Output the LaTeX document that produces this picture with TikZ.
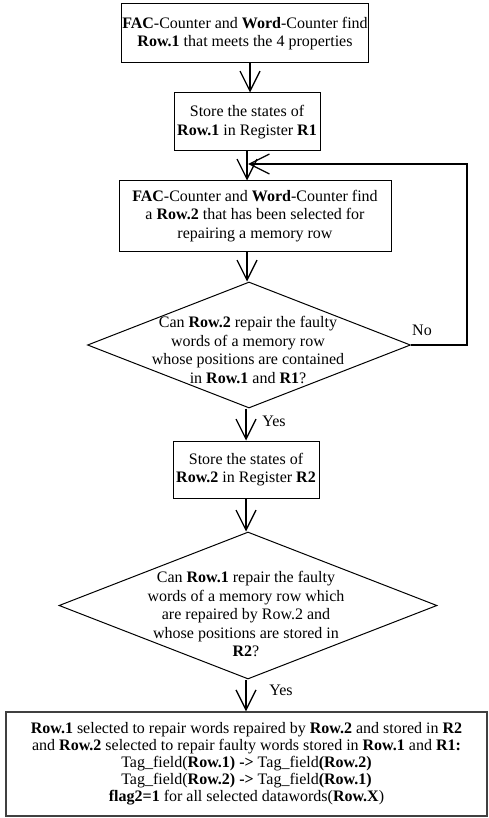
\documentclass[tikz,border=0pt]{standalone}
\usepackage{fontspec}
\setmainfont{Liberation Serif}
\usetikzlibrary{shapes.geometric,arrows.meta}
\begin{document}
\begin{tikzpicture}[x=1pt,y=-1pt,
  box/.style={draw, line width=1pt, rectangle, inner sep=0pt, align=center, font=\fontsize{16}{18.5}\selectfont},
  decision/.style={draw, line width=1pt, diamond, inner sep=0pt},
  dtext/.style={align=center, inner sep=0pt, font=\fontsize{16}{18.5}\selectfont},
  lbl/.style={inner sep=0pt, font=\fontsize{16}{18.5}\selectfont},
  flow/.style={line width=1.3pt, -{Straight Barb[length=20pt,width=20pt,line width=1.3pt]}},
]
\useasboundingbox (0,0) rectangle (489,818);

\node[box, minimum width=247pt, minimum height=59pt] (b1) at (245,33.5)
  {\textbf{FAC}-Counter and \textbf{Word}-Counter find\\ \textbf{Row.1} that meets the 4 properties};
\node[box, minimum width=146pt, minimum height=58pt] (b2) at (247,122)
  {Store the states of\\ \textbf{Row.1} in Register \textbf{R1}};
\node[box, minimum width=272pt, minimum height=70pt] (b3) at (255,216)
  {\textbf{FAC}-Counter and \textbf{Word}-Counter find\\ a \textbf{Row.2} that has been selected for\\ repairing a memory row};
\node[decision, minimum width=323pt, minimum height=126pt] (d1) at (249,345) {};
\node[dtext] (d1t) at (248,350)
  {Can \textbf{Row.2} repair the faulty\\ words of a memory row\\ whose positions are contained\\ in \textbf{Row.1} and \textbf{R1}?};
\node[box, minimum width=146pt, minimum height=57pt] (b4) at (246,469.5)
  {Store the states of\\ \textbf{Row.2} in Register \textbf{R2}};
\node[decision, minimum width=378pt, minimum height=147pt] (d2) at (248,605.5) {};
\node[dtext] (d2t) at (246,614)
  {Can \textbf{Row.1} repair the faulty\\ words of a memory row which\\ are repaired by Row.2 and\\ whose positions are stored in\\ \textbf{R2}?};
\node[box, draw=black!75, line width=1.3pt, minimum width=481pt, minimum height=104pt, font=\fontsize{16}{17}\selectfont] (b5) at (246.5,764)
  {\textbf{Row.1} selected to repair words repaired by \textbf{Row.2} and stored in \textbf{R2}\\
   and \textbf{Row.2} selected to repair faulty words stored in \textbf{Row.1} and \textbf{R1:}\\
   Tag\_field(\textbf{Row.1) ->} Tag\_field\textbf{(Row.2)}\\
   Tag\_field(\textbf{Row.2) ->} Tag\_field\textbf{(Row.1)}\\
   \textbf{flag2=1} for all selected datawords(\textbf{Row.X})};

\node[lbl] (no) at (422,330) {No};
\node[lbl] (yes1) at (274,421) {Yes};
\node[lbl] (yes2) at (281,690) {Yes};

\coordinate (loopx) at (467,164);
\coordinate (loopend) at (248,164);

\draw[flow] ([xshift=5pt]b1.south) -- ([xshift=3pt]b2.north);
\draw[flow] (b2.south) -- (b2.south |- b3.north);
\draw[flow] (b2.south |- b3.south) -- (b2.south |- d1.north);
\draw[flow, line width=1.5pt] (d1.east) -| (loopx) -- (loopend);
\draw[flow] (b4.north |- d1.south) -- (b4.north);
\draw[flow] (b4.south) -- (b4.south |- d2.north);
\draw[flow] (b4.south |- d2.south) -- (b4.south |- b5.north);
\end{tikzpicture}
\end{document}
